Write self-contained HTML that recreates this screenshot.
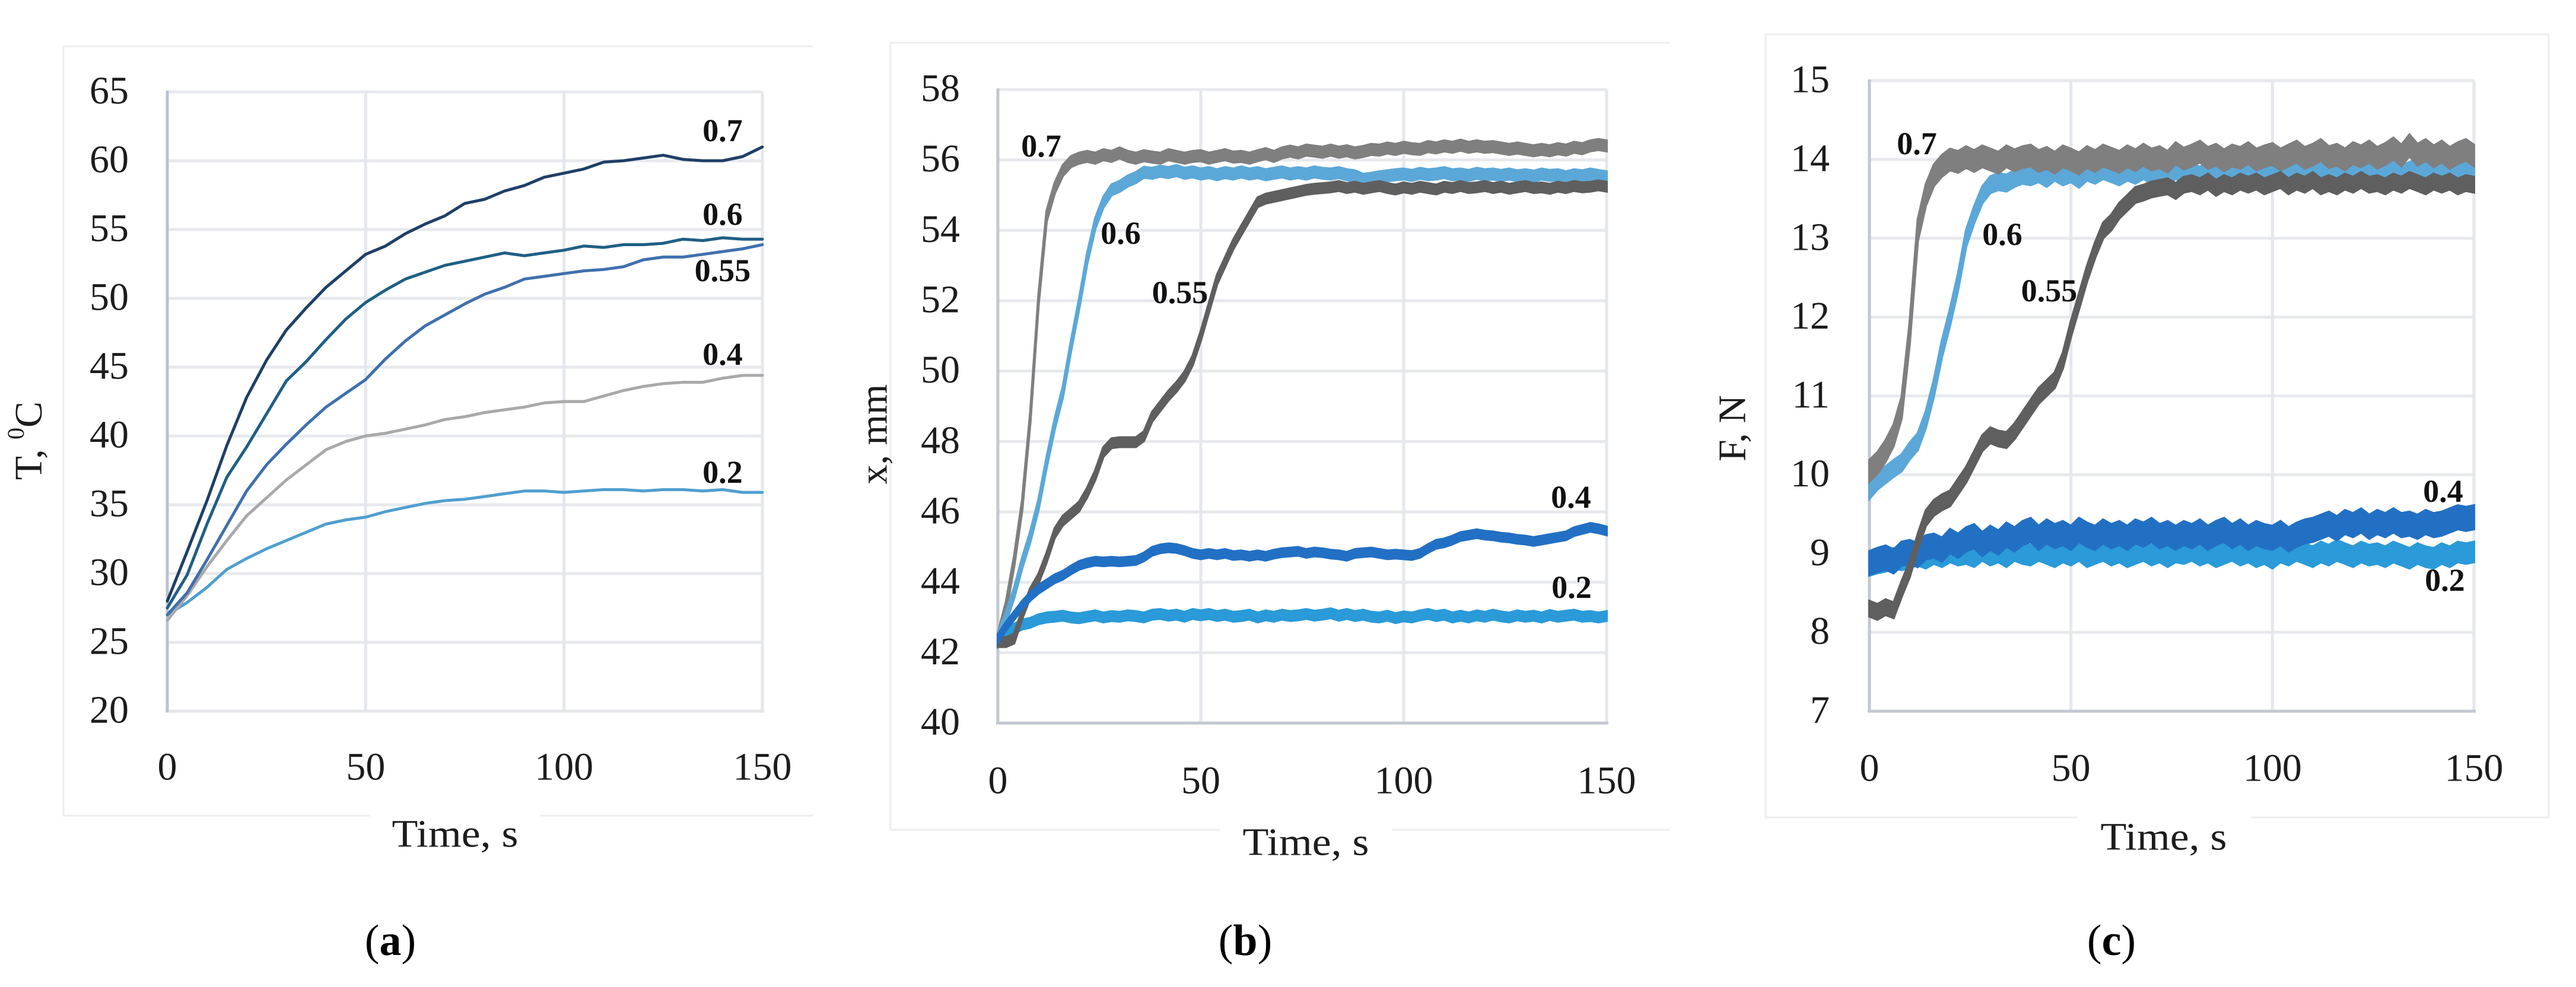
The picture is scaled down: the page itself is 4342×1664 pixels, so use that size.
<!DOCTYPE html>
<html>
<head>
<meta charset="utf-8">
<title>Time series charts</title>
<style>
html,body{margin:0;padding:0;background:#fff;width:4342px;height:1664px;overflow:hidden}
svg{display:block}
text{font-family:"Liberation Serif",serif;fill:#1c1c1c}
</style>
</head>
<body>
<svg id="figure" xmlns="http://www.w3.org/2000/svg" width="4342" height="1664" viewBox="0 0 4342 1664"></svg>
<script>
const timeTicks = [0, 50, 100, 150];
const seriesLabels = ['0.7', '0.6', '0.55', '0.4', '0.2'];

const tempTicks = [20, 25, 30, 35, 40, 45, 50, 55, 60, 65];
const posTicks = [40, 42, 44, 46, 48, 50, 52, 54, 56, 58];
const forceTicks = [7, 8, 9, 10, 11, 12, 13, 14, 15];

const timeCoarse = [0,5,10,15,20,25,30,35,40,45,50,55,60,65,70,75,80,85,90,95,100,105,110,115,120,125,130,135,140,145,150];
const timeFine = [0,2,4,6,8,10,12,14,16,18,20,22,24,26,28,30,32,34,36,38,40,42,44,46,48,50,52,54,56,58,60,62,64,66,68,70,72,74,76,78,80,82,84,86,88,90,92,94,96,98,100,102,104,106,108,110,112,114,116,118,120,122,124,126,128,130,132,134,136,138,140,142,144,146,148,150];

const tempSeries07 = [28,31.6,35.3,39.3,42.8,45.5,47.7,49.3,50.8,52,53.2,53.8,54.7,55.4,56,56.9,57.2,57.8,58.2,58.8,59.1,59.4,59.9,60,60.2,60.4,60.1,60,60,60.3,61];
const tempSeries06 = [27.5,29.9,33.6,37,39.2,41.6,44,45.4,47,48.5,49.7,50.6,51.4,51.9,52.4,52.7,53,53.3,53.1,53.3,53.5,53.8,53.7,53.9,53.9,54,54.3,54.2,54.4,54.3,54.3];
const tempSeries055 = [27,28.6,31,33.5,36,37.9,39.4,40.8,42.1,43.1,44.1,45.6,46.9,48,48.8,49.6,50.3,50.8,51.4,51.6,51.8,52,52.1,52.3,52.8,53,53,53.2,53.4,53.6,53.9];
const tempSeries04 = [26.6,28.4,30.5,32.4,34.2,35.5,36.8,37.9,39,39.6,40,40.2,40.5,40.8,41.2,41.4,41.7,41.9,42.1,42.4,42.5,42.5,42.9,43.3,43.6,43.8,43.9,43.9,44.2,44.4,44.4];
const tempSeries02 = [27,27.9,29,30.3,31.1,31.8,32.4,33,33.6,33.9,34.1,34.5,34.8,35.1,35.3,35.4,35.6,35.8,36,36,35.9,36,36.1,36.1,36,36.1,36.1,36,36.1,35.9,35.9];

const posSeries07 = [42.4,43.3,44.6,46.2,48.7,52,54.4,55.2,55.7,55.95,56.05,56.1,56.05,56.15,56.1,56.2,56.1,56.05,56.12,56.08,56.05,56.15,56.1,56.05,56.1,56.12,56.05,56.1,56.15,56.08,56.1,56.05,56.12,56.18,56.1,56.2,56.25,56.2,56.28,56.25,56.22,56.28,56.22,56.26,56.2,56.24,56.3,56.28,56.34,56.3,56.36,56.32,56.3,56.38,56.34,56.4,56.36,56.42,56.36,56.4,56.36,56.38,56.34,56.3,56.34,56.3,56.26,56.3,56.26,56.32,56.28,56.36,56.32,56.4,56.44,56.4];
const posSeries06 = [42.4,43,43.7,44.55,45.3,46.2,47.4,48.5,49.4,50.7,51.9,53.2,54.2,54.8,55.15,55.25,55.4,55.5,55.65,55.62,55.68,55.64,55.7,55.62,55.66,55.6,55.64,55.58,55.64,55.6,55.66,55.6,55.64,55.58,55.62,55.66,55.6,55.64,55.6,55.66,55.62,55.6,55.64,55.58,55.55,55.45,55.48,55.52,55.55,55.58,55.6,55.56,55.62,55.58,55.6,55.64,55.58,55.6,55.56,55.62,55.58,55.6,55.56,55.6,55.55,55.58,55.54,55.6,55.56,55.58,55.52,55.58,55.55,55.6,55.56,55.52];
const posSeries055 = [42.3,42.3,42.4,43.1,43.7,44.1,44.7,45.4,45.75,45.95,46.15,46.55,47.05,47.7,47.95,47.98,47.98,47.98,48.15,48.7,49,49.3,49.55,49.85,50.3,51,51.8,52.6,53.1,53.6,54,54.4,54.8,54.9,54.95,55,55.05,55.1,55.15,55.18,55.2,55.22,55.26,55.2,55.24,55.18,55.22,55.26,55.2,55.16,55.22,55.18,55.24,55.2,55.16,55.24,55.2,55.26,55.2,55.22,55.26,55.2,55.24,55.18,55.22,55.26,55.2,55.22,55.18,55.24,55.2,55.26,55.22,55.24,55.28,55.24];
const posSeries04 = [42.4,42.75,43.05,43.35,43.6,43.8,43.95,44.1,44.2,44.35,44.48,44.55,44.6,44.58,44.6,44.58,44.6,44.62,44.72,44.88,44.95,44.98,44.96,44.9,44.82,44.78,44.82,44.78,44.82,44.76,44.78,44.74,44.78,44.74,44.8,44.84,44.86,44.88,44.82,44.86,44.84,44.8,44.78,44.74,44.82,44.84,44.86,44.82,44.78,44.8,44.78,44.76,44.82,44.96,45.08,45.12,45.2,45.3,45.34,45.38,45.34,45.32,45.28,45.26,45.22,45.2,45.16,45.2,45.24,45.28,45.32,45.44,45.5,45.56,45.52,45.46];
const posSeries02 = [42.3,42.5,42.68,42.8,42.85,42.95,43,43.02,43.05,43,42.98,43.02,43.06,43,43.04,43.02,43.06,43.04,43,43.08,43.1,43.05,43.08,43.02,43.1,43.06,43.1,43.04,43.08,43.02,43.04,43.08,43,43.06,43.02,43.08,43.04,43.06,43.1,43.05,43.08,43.12,43.05,43.1,43.04,43.08,43.02,43,43.05,42.98,43.03,43,43.06,43.1,43.04,43.08,43,43.05,43,43.06,43.02,43.08,43.03,43,43.06,43.02,43.05,43,43.07,43.02,43.05,43.08,43.02,43.04,43,43.04];

const forceSeries07 = [10.05,10.15,10.3,10.5,10.85,11.8,13.1,13.55,13.8,13.92,14,13.97,14.03,13.98,14.04,14,13.96,14.04,13.99,14.03,14.05,13.98,14.02,13.96,14.04,14,13.95,14.03,13.98,14.05,14.01,13.97,14.04,13.99,14.06,14,14.03,13.97,14.08,14.01,14.05,14.1,14.02,14.06,13.99,14.05,14.02,14.08,14,14.04,14.07,14,14.05,14.1,14.02,14.06,14.12,14.03,14.06,14,14.08,14.04,14.1,14.02,14.07,14.14,14.05,14.18,14.06,14.12,14.04,14.1,14.02,14.08,14.12,14.05];
const forceSeries06 = [9.8,9.92,10,10.08,10.15,10.3,10.42,10.7,11.1,11.6,12,12.45,13,13.3,13.55,13.68,13.72,13.7,13.76,13.8,13.78,13.82,13.76,13.84,13.78,13.82,13.75,13.84,13.8,13.86,13.82,13.78,13.84,13.8,13.86,13.8,13.84,13.78,13.86,13.82,13.84,13.8,13.86,13.82,13.88,13.83,13.85,13.8,13.86,13.82,13.88,13.84,13.8,13.86,13.82,13.88,13.84,13.8,13.86,13.84,13.88,13.82,13.86,13.9,13.84,13.88,13.82,13.86,13.9,13.85,13.88,13.82,13.86,13.9,13.84,13.86];
const forceSeries055 = [8.3,8.26,8.32,8.28,8.55,8.8,9.15,9.45,9.58,9.65,9.7,9.85,10,10.2,10.4,10.5,10.46,10.44,10.55,10.7,10.85,11,11.1,11.2,11.45,11.85,12.2,12.55,12.85,13.1,13.2,13.35,13.45,13.55,13.58,13.62,13.64,13.66,13.6,13.68,13.7,13.66,13.72,13.64,13.7,13.66,13.72,13.68,13.72,13.66,13.7,13.74,13.66,13.72,13.68,13.74,13.66,13.7,13.66,13.72,13.68,13.74,13.68,13.7,13.66,13.72,13.68,13.74,13.7,13.66,13.72,13.68,13.72,13.66,13.7,13.68];
const forceSeries04 = [8.88,8.92,8.95,8.9,9,9.02,8.98,9.08,9.1,9.05,9.16,9.1,9.18,9.22,9.12,9.2,9.14,9.24,9.18,9.26,9.3,9.2,9.28,9.22,9.26,9.2,9.3,9.24,9.2,9.28,9.22,9.26,9.2,9.28,9.24,9.3,9.22,9.26,9.2,9.26,9.22,9.28,9.2,9.26,9.3,9.22,9.28,9.2,9.26,9.22,9.2,9.26,9.18,9.24,9.28,9.3,9.34,9.38,9.32,9.4,9.36,9.42,9.34,9.4,9.36,9.42,9.36,9.38,9.34,9.4,9.36,9.38,9.42,9.46,9.44,9.46];
const forceSeries02 = [8.85,8.88,8.9,8.94,8.92,8.95,8.98,8.94,9,8.96,9.02,8.98,9,8.96,9.04,8.98,9.02,8.96,9.04,9,8.98,9.04,9,8.96,9.02,8.98,9.04,8.96,9,9.04,8.98,9.02,8.96,9,9.04,8.98,9.02,8.96,9.02,9,9.04,8.98,9.02,8.96,9,9.04,8.98,9.02,8.96,9,8.94,9.02,8.98,9.04,9,8.96,9.02,8.98,9.04,9,8.96,9.02,8.98,9,8.96,9.02,8.98,8.94,9,8.96,8.94,9,8.96,9.02,9,9.02];

const NS = 'http://www.w3.org/2000/svg';
const root = document.getElementById('figure');

function mk(parent, tag, attrs, txt) {
  const el = document.createElementNS(NS, tag);
  for (const k in attrs) el.setAttribute(k, attrs[k]);
  if (txt !== undefined) el.textContent = txt;
  parent.appendChild(el);
  return el;
}

const panels = [
  { id: 'a', xL: 282, xR: 1285, yT: 155, yB: 1199, ticks: tempTicks, yMin: 20, yMax: 65,
    frame: [107, 78, 1370, 1375], gap: [624, 911], rightEdge: false, axisBottom: '#e4e6ea', axisLeft: '#b8c4d2',
    tickRight: 217, xTickY: 1293, titleX: 767, titleY: 1406, yTitleX: 48, yTitleY: 743, capX: 658,
    times: timeCoarse, mode: 'line',
    series: [
      { key: '0.2', values: tempSeries02, color: '#4f9fcf', w: 5 },
      { key: '0.4', values: tempSeries04, color: '#a9a9a9', w: 5 },
      { key: '0.55', values: tempSeries055, color: '#3f70ad', w: 5 },
      { key: '0.6', values: tempSeries06, color: '#1f5f85', w: 5 },
      { key: '0.7', values: tempSeries07, color: '#1f3f66', w: 5 }
    ],
    labels: { '0.7': [1218, 220], '0.6': [1218, 361], '0.55': [1218, 456], '0.4': [1218, 597], '0.2': [1218, 796] } },
  { id: 'b', xL: 1682, xR: 2708, yT: 151, yB: 1219, ticks: posTicks, yMin: 40, yMax: 58,
    frame: [1501, 72, 2814, 1399], gap: [2056, 2347], rightEdge: false, axisBottom: '#c3c7d0', axisLeft: '#c3c7d0',
    tickRight: 1618, xTickY: 1316, titleX: 2201, titleY: 1420, yTitleX: 1473, yTitleY: 732, capX: 2099,
    times: timeFine, mode: 'band',
    series: [
      { key: '0.2', values: posSeries02, color: '#2a9ad8', h: 8 },
      { key: '0.7', values: posSeries07, color: '#7f7f7f', h: 9 },
      { key: '0.6', values: posSeries06, color: '#5ba8d8', h: 9 },
      { key: '0.55', values: posSeries055, color: '#5f5f5f', h: 8 },
      { key: '0.4', values: posSeries04, color: '#2270c4', h: 7 }
    ],
    labels: { '0.7': [1755, 246], '0.6': [1889, 393], '0.55': [1989, 493], '0.4': [2648, 838], '0.2': [2649, 990] } },
  { id: 'c', xL: 3151, xR: 4170, yT: 136, yB: 1199, ticks: forceTicks, yMin: 7, yMax: 15,
    frame: [2976, 58, 4296, 1378], gap: [3502, 3794], rightEdge: true, axisBottom: '#c3c7d2', axisLeft: '#c3c7d2',
    tickRight: 3084, xTickY: 1295, titleX: 3647, titleY: 1411, yTitleX: 2920, yTitleY: 722, capX: 3559,
    times: timeFine, mode: 'band',
    series: [
      { key: '0.2', values: forceSeries02, color: '#2a9ad8', h: 17 },
      { key: '0.4', values: forceSeries04, color: '#2270c4', h: 20 },
      { key: '0.6', values: forceSeries06, color: '#5ba8d8', h: 14 },
      { key: '0.7', values: forceSeries07, color: '#7f7f7f', h: 18 },
      { key: '0.55', values: forceSeries055, color: '#5f5f5f', h: 13 }
    ],
    labels: { '0.7': [3231, 242], '0.6': [3375, 395], '0.55': [3454, 490], '0.4': [4118, 828], '0.2': [4121, 978] } }
];

panels.forEach(function (p) {
  const g = mk(root, 'g', {});
  
  

  const xAt = function (t) { return p.xL + (t - 0) * (p.xR - p.xL) / 150; };
  const yAt = function (v) { return p.yB - (v - p.yMin) * (p.yB - p.yT) / (p.yMax - p.yMin); };

  const f = p.frame;
  const frame = mk(g, 'path', {
    d: 'M' + f[2] + ' ' + f[1] + 'L' + f[0] + ' ' + f[1] + 'L' + f[0] + ' ' + f[3] + 'L' + f[2] + ' ' + f[3] + (p.rightEdge ? 'Z' : ''),
    fill: 'none', stroke: '#eeeeee', 'stroke-width': 3
  });
  
  

  const gap = mk(g, 'rect', { x: p.gap[0], y: f[3] - 5, width: p.gap[1] - p.gap[0], height: 10, fill: '#fff' });
  
  

  p.ticks.forEach(function (v, i) {
    const y = yAt(v);
    if (i > 0) {
      const gl = mk(g, 'line', { x1: p.xL, x2: p.xR, y1: y, y2: y, stroke: '#e7e9ed', 'stroke-width': 5 });
      
      
    }
    const tl = mk(g, 'text', { x: p.tickRight, y: y - 2, 'text-anchor': 'end', 'dominant-baseline': 'central', 'font-size': 66 }, String(v));
    
    
  });

  timeTicks.forEach(function (t, i) {
    const x = xAt(t);
    if (i > 0) {
      const gl = mk(g, 'line', { x1: x, x2: x, y1: p.yT, y2: p.yB, stroke: '#e4e7ec', 'stroke-width': 5 });
      
      
    }
    const tl = mk(g, 'text', { x: x, y: p.xTickY, 'text-anchor': 'middle', 'dominant-baseline': 'central', 'font-size': 66 }, String(t));
    
    
  });

  const axB = mk(g, 'line', { x1: p.xL - 3, x2: p.xR + 3, y1: p.yB, y2: p.yB, stroke: p.axisBottom, 'stroke-width': 5 });
  
  
  const axL = mk(g, 'line', { x1: p.xL, x2: p.xL, y1: p.yT - 2, y2: p.yB + 2, stroke: p.axisLeft, 'stroke-width': 5 });
  
  

  p.series.forEach(function (s) {
    let el;
    if (p.mode === 'line') {
      const d = s.values.map(function (v, i) { return (i ? 'L' : 'M') + xAt(p.times[i]).toFixed(1) + ' ' + yAt(v).toFixed(1); }).join('');
      el = mk(g, 'path', { d: d, fill: 'none', stroke: s.color, 'stroke-width': s.w, 'stroke-linejoin': 'round', 'stroke-linecap': 'round' });
    } else {
      const up = s.values.map(function (v, i) { return (i ? 'L' : 'M') + xAt(p.times[i]).toFixed(1) + ' ' + (yAt(v) - s.h).toFixed(1); }).join('');
      const down = s.values.map(function (v, i) { return 'L' + xAt(p.times[i]).toFixed(1) + ' ' + (yAt(v) + s.h).toFixed(1); }).reverse().join('');
      el = mk(g, 'path', { d: up + down + 'Z', fill: s.color, stroke: s.color, 'stroke-width': 4, 'stroke-linejoin': 'miter' });
    }
    
    
  });

  seriesLabels.forEach(function (k) {
    const pos = p.labels[k];
    const l = mk(g, 'text', { x: pos[0], y: pos[1], 'text-anchor': 'middle', 'dominant-baseline': 'central', 'font-size': 54, 'font-weight': 'bold', style: 'fill:#111' }, k);
    
    
  });

  const xt = mk(g, 'text', { x: p.titleX, y: p.titleY, 'text-anchor': 'middle', 'dominant-baseline': 'central', 'font-size': 66, textLength: 213, lengthAdjust: 'spacingAndGlyphs' }, 'Time, s');
  
  

  const yt = mk(g, 'text', { x: 0, y: 0, transform: 'translate(' + p.yTitleX + ' ' + p.yTitleY + ') rotate(-90)', 'text-anchor': 'middle', 'dominant-baseline': 'central', 'font-size': 66 });
  
  
  if (p.id === 'a') {
    mk(yt, 'tspan', {}, 'T, ');
    mk(yt, 'tspan', { 'font-size': 40, dy: -22 }, '0');
    mk(yt, 'tspan', { dy: 22 }, 'C');
  } else {
    yt.textContent = p.id === 'b' ? 'x, mm' : 'F, N';
  }

  const cap = mk(g, 'text', { x: p.capX, y: 1586, 'text-anchor': 'middle', 'dominant-baseline': 'central', 'font-size': 74, style: 'fill:#000' });
  
  
  mk(cap, 'tspan', {}, '(');
  mk(cap, 'tspan', { 'font-weight': 'bold' }, p.id);
  mk(cap, 'tspan', {}, ')');
});
</script>
</body>
</html>
